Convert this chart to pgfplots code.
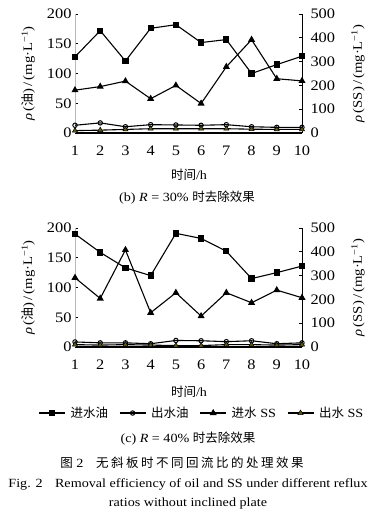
\documentclass[border=0pt]{standalone}
\usepackage{fontspec}
\setmainfont{Liberation Serif}[FakeStretch=1.13]
\newfontfamily\cjk{Noto Sans CJK SC}
\newfontfamily\cjkw{Noto Sans CJK SC}[LetterSpace=20]
\usepackage{pgfplots}
\usepackage{pgfplotstable}
\pgfplotsset{compat=1.18}
\definecolor{olivem}{RGB}{95,90,20}
\newcommand{\fs}[1]{\fontsize{#1bp}{#1bp}\selectfont}

\pgfplotstableread{
x oilin oilout ssin ssout
1 128 13 180 10
2 172 17 195 12
3 121 10.5 218 15
4 176 14 144 18
5 182 13.5 200 18
6 152 13 124 18
7 157 14 278 18
8 100 10.5 392 16
9 115 9.5 228 15
10 129 9.5 219 15
}\dataB

\pgfplotstableread{
x oilin oilout ssin ssout
1 190 8.5 291 10
2 159 7 204 8
3 133 7 408 10
4 120 5.5 144 8
5 191 11 228 6
6 182.5 10.5 130 6
7 161 9 228 10
8 115 10.5 186 10
9 125 5.5 239 8
10 136 7 207 10
}\dataC

\pgfplotsset{
  base/.style={scale only axis, width=227bp, height=119bp, xmin=1, xmax=10,
    xtick={1,...,10}, xtick style={draw=none},
    /pgf/number format/assume math mode=true,
    ticklabel style={font=\fs{14.5}},
    major tick length=3bp, tick style={black, line width=0.8bp},
    clip=false},
  leftax/.style={base, ymin=0, ymax=200, ytick={0,50,...,200},
    axis y line*=left, axis x line*=bottom,
    y axis line style={gray!55, line width=1bp},
    x axis line style={black, line width=1.3bp},
    xticklabel style={yshift=-9bp}},
  rightax/.style={base, ymin=0, ymax=500, ytick={0,100,...,500},
    axis y line*=right, axis x line=none,
    y axis line style={black, line width=0.8bp},
    yticklabel style={xshift=5bp}, xticklabels={}},
  oilin/.style={black, line width=1.1bp, mark=square*, mark size=2.6bp, mark options={fill=black}},
  oilout/.style={black, line width=1.1bp, mark=o, mark size=2.2bp, mark options={fill=white, line width=1bp}},
  ssin/.style={black, line width=1.1bp, mark=triangle*, mark size=3bp, mark options={fill=black}},
  ssout/.style={black, line width=1.1bp, mark=triangle*, mark size=3bp, mark options={fill=olivem, draw=black, line width=0.5bp}},
}

\begin{document}
\begin{tikzpicture}
\path[use as bounding box] (0,0) rectangle (380bp,-513bp);

% ---- plot (b)
\begin{axis}[leftax, at={(75bp,-133bp)}, anchor=south west]
\addplot[oilout] table[x=x,y=oilout]{\dataB};
\addplot[oilin] table[x=x,y=oilin]{\dataB};
\end{axis}
\begin{axis}[rightax, at={(75bp,-133bp)}, anchor=south west]
\addplot[ssout] table[x=x,y=ssout]{\dataB};
\addplot[ssin] table[x=x,y=ssin]{\dataB};
\end{axis}

% ---- plot (c)
\begin{axis}[leftax, at={(75bp,-347bp)}, anchor=south west]
\addplot[oilout] table[x=x,y=oilout]{\dataC};
\addplot[oilin] table[x=x,y=oilin]{\dataC};
\end{axis}
\begin{axis}[rightax, at={(75bp,-347bp)}, anchor=south west,
  legend columns=4,
  legend style={draw=none, fill=none, font=\fs{12.5}, at={(0.559,-0.555)}, anchor=center,
    /tikz/every odd column/.append style={column sep=3bp},
    /tikz/every even column/.append style={column sep=9bp}},
  legend image code/.code={\draw[mark repeat=2,mark phase=2] plot coordinates {(0bp,0bp)(13bp,0bp)(26bp,0bp)};}]
\addlegendimage{oilin}
\addlegendentry{{\cjk 进水油}}
\addlegendimage{oilout}
\addlegendentry{{\cjk 出水油}}
\addplot[ssin] table[x=x,y=ssin]{\dataC};
\addlegendentry{{\cjk 进水} SS}
\addplot[ssout] table[x=x,y=ssout]{\dataC};
\addlegendentry{{\cjk 出水} SS}
\end{axis}

% ---- axis titles
\node[rotate=90, font=\fs{13}] at (28bp,-73.5bp) {\textit{ρ}\,({\cjk 油})\,/\,(mg·L\textsuperscript{−1})};
\node[rotate=90, font=\fs{13}] at (358bp,-73.5bp) {\textit{ρ}\,(SS)\,/\,(mg·L\textsuperscript{−1})};
\node[rotate=90, font=\fs{13}] at (28bp,-287.5bp) {\textit{ρ}\,({\cjk 油})\,/\,(mg·L\textsuperscript{−1})};
\node[rotate=90, font=\fs{13}] at (358bp,-287.5bp) {\textit{ρ}\,(SS)\,/\,(mg·L\textsuperscript{−1})};
\node[font=\fs{12.5}] at (189bp,-175bp) {{\cjk 时间}/h};
\node[font=\fs{12.5}] at (189bp,-392bp) {{\cjk 时间}/h};

% ---- captions
\node[font=\fs{12.5}] at (187bp,-198bp) {(b)\ \textit{R} = 30\% {\cjk 时去除效果}};
\node[font=\fs{12.5}] at (188bp,-439bp) {(c)\ \textit{R} = 40\% {\cjk 时去除效果}};
\node[font=\fs{12.5}] at (182bp,-463bp) {{\cjkw 图} 2\quad{\cjkw 无斜板时不同回流比的处理效果}};
\node[font=\fs{12.5}] at (188bp,-484bp) {Fig. 2\quad Removal efficiency of oil and SS under different reflux};
\node[font=\fs{12.5}] at (188bp,-503bp) {ratios without inclined plate};
\end{tikzpicture}
\end{document}
